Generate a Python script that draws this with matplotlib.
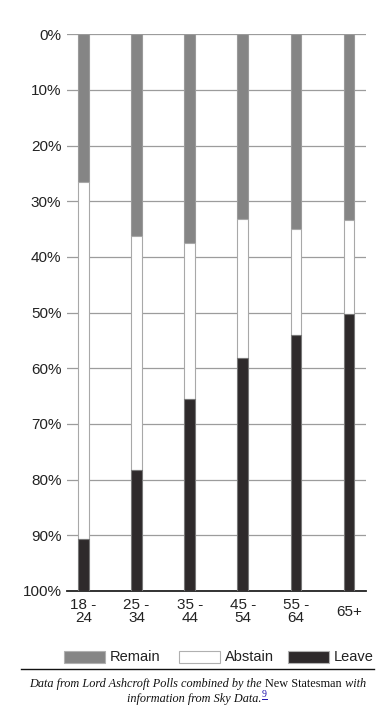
import matplotlib.pyplot as plt
from matplotlib.patches import Rectangle
import numpy as np

# vote share by age group (percent)
ages = ["18 -\n24", "25 -\n34", "35 -\n44", "45 -\n54", "55 -\n64", "65+"]
remain = np.array([26.5, 36.2, 37.5, 33.1, 35.0, 33.3])
leave = np.array([9.4, 21.8, 34.5, 41.8, 46.0, 49.7])
abstain = 100 - remain - leave

series = ["Remain", "Abstain", "Leave"]
colors = ["#858585", "#ffffff", "#2e2a2b"]

plt.rcParams['font.family'] = ['Liberation Sans', 'DejaVu Sans']

fig = plt.figure(figsize=(3.91, 7.13), dpi=100)
W, H = 391, 713
ax = fig.add_axes([67 / W, 1 - 591 / H, (366 - 67) / W, (591 - 34.3) / H])

x = np.arange(len(ages))
bw = 0.2
ax.bar(x, remain, bw, color=colors[0], edgecolor="#9a9a9a", linewidth=0.8, zorder=3)
ax.bar(x, abstain, bw, bottom=remain, color=colors[1], edgecolor="#a8a8a8", linewidth=0.8, zorder=3)
ax.bar(x, leave, bw, bottom=remain + abstain, color=colors[2], edgecolor="#777777", linewidth=0.8, zorder=3)

ax.set_ylim(100, 0)
ax.set_xlim(-0.31, 5.32)
ax.set_yticks(np.arange(0, 101, 10))
ax.set_yticklabels([f"{v}%" for v in range(0, 101, 10)], fontsize=11, color="#222222")
ax.yaxis.grid(True, color="#9c9c9c", linewidth=0.9, zorder=0)
ax.set_axisbelow(True)
ax.set_xticks(x)
ax.set_xticklabels(ages, fontsize=11, color="#222222", linespacing=0.9, va="center")
ax.tick_params(axis="both", length=0)
ax.tick_params(axis="y", pad=4)
ax.tick_params(axis="x", pad=15)
for s in ["left", "right", "top"]:
    ax.spines[s].set_visible(False)
ax.spines["bottom"].set_color("#222222")
ax.spines["bottom"].set_linewidth(1.3)

# legend strip, clipped at the right like the original
lax = fig.add_axes([0, 0, 373 / W, 1])
lax.set_xlim(0, 373)
lax.set_ylim(H, 0)
lax.axis("off")
px = [64, 179, 288]
for p, name, c in zip(px, series, colors):
    lax.add_patch(Rectangle((p, 650.5), 41, 12, facecolor=c, edgecolor="#b0b0b0", linewidth=0.8))
    lax.text(p + 46, 657, name, fontsize=10.5, va="center", ha="left", color="#222222", clip_on=True)
lax.plot([21, 374], [669, 669], color="#111111", linewidth=1, clip_on=False)

# caption with mixed styles
serif = ['Liberation Serif', 'DejaVu Serif']


def line(parts, y0):
    fig.canvas.draw()
    r = fig.canvas.get_renderer()
    arts = []
    for txt, style, col in parts:
        t = fig.text(0, 1 - y0 / H, txt, fontsize=8.8, family=serif, style=style, color=col, va="baseline", ha="left")
        arts.append(t)
    widths = [a.get_window_extent(r).width for a in arts]
    total = sum(widths)
    xs = (W - total) / 2 + 2
    for a, w in zip(arts, widths):
        a.set_x(xs / W)
        xs += w
    return arts


line([("Data from Lord Ashcroft Polls combined by the ", "italic", "#111111"),
      ("New Statesman", "normal", "#111111"),
      (" with", "italic", "#111111")], 687)
arts = line([("information from Sky Data.", "italic", "#111111"),
             ("9", "normal", "#1a0dab")], 702)
arts[-1].set_fontsize(7)
arts[-1].set_y(1 - 697 / H)
fig.canvas.draw()
bb = arts[-1].get_window_extent(fig.canvas.get_renderer())
fig.add_artist(plt.Line2D([bb.x0, bb.x1], [bb.y0, bb.y0], transform=None, color="#1a0dab", linewidth=0.7))

fig.savefig("out.png", dpi=100)
